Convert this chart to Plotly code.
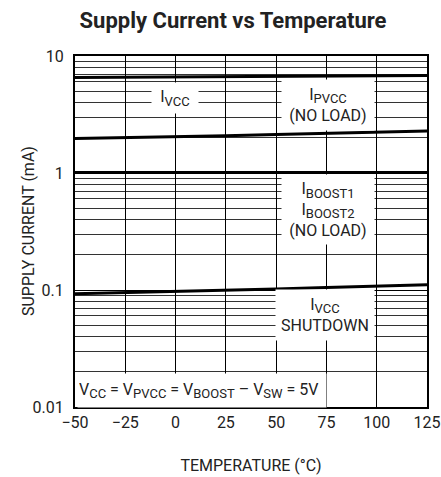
import plotly.graph_objects as go

# Datos
temperature = [-50, -25, 0, 25, 50, 75, 100, 125]
i_pvcc = [6.55, 6.58, 6.62, 6.65, 6.69, 6.72, 6.76, 6.8]
i_vcc = [1.97, 2.0, 2.04, 2.08, 2.13, 2.18, 2.23, 2.28]
i_boost = [1.01, 1.01, 1.01, 1.01, 1.01, 1.01, 1.01, 1.01]
i_vcc_shdn = [0.093, 0.095, 0.097, 0.099, 0.102, 0.105, 0.108, 0.111]

x_ticks = [-50, -25, 0, 25, 50, 75, 100, 125]
y_ticks = [0.01, 0.1, 1, 10]
y_ticktext = ["0.01", "0.1", "1", "10"]
y_minor = [m * d for d in [0.01, 0.1, 1] for m in range(2, 10)]

FONT = "Roboto, Liberation Sans, sans-serif"
TXT = '#222'

fig = go.Figure()

for serie in [i_pvcc, i_vcc, i_boost, i_vcc_shdn]:
    fig.add_trace(go.Scatter(
        x=temperature,
        y=serie,
        mode='lines',
        line=dict(color='black', width=3),
        showlegend=False,
        hoverinfo='skip'
    ))

# Caja de la grafica en px (l=75, r=427, t=56, b=407)
L, R, T, B = 75, 427, 56, 407


def px_x(p):
    return (p - L) / (R - L)


def px_y(p):
    return (B - p) / (B - T)


def sub(s):
    # subindice un poco mas grande que el de plotly por defecto
    return f"<sub><span style='font-size:13px'>{s}</span></sub>"


# Etiquetas con fondo blanco (tapan la rejilla como en el original)
labels = [
    ("I" + sub("VCC"), 175, 97.5, 44, 28),
    ("I" + sub("PVCC") + "<br>(NO LOAD)", 328, 105, 90, 48),
    ("I" + sub("BOOST1") + "<br>I" + sub("BOOST2") + "<br>(NO LOAD)", 328, 210, 90, 67),
    ("I" + sub("VCC") + "<br>SHUTDOWN", 325, 315, 96, 48),
]
for text, cx, cy, w, h in labels:
    fig.add_annotation(
        text=text, xref='paper', yref='paper',
        x=px_x(cx), y=px_y(cy), xanchor='center', yanchor='middle',
        width=w, height=h, align='center', showarrow=False,
        bgcolor='white', borderpad=1,
        font=dict(family=FONT, size=16, color=TXT)
    )

fig.add_annotation(
    text="V" + sub("CC") + " = V" + sub("PVCC") + " = V" + sub("BOOST")
         + " – V" + sub("SW") + " = 5V",
    xref='paper', yref='paper',
    x=px_x(77), y=px_y(390), xanchor='left', yanchor='middle',
    width=246, height=31, align='left', showarrow=False,
    bgcolor='white', borderpad=1,
    font=dict(family=FONT, size=16, color=TXT)
)

# Titulo del eje Y
fig.add_annotation(
    text="SUPPLY CURRENT (mA)", xref='paper', yref='paper',
    x=px_x(28), y=px_y(231), xanchor='center', yanchor='middle',
    textangle=-90, showarrow=False,
    font=dict(family=FONT, size=16, color=TXT)
)

fig.update_layout(
    width=441,
    height=477,
    paper_bgcolor='white',
    plot_bgcolor='white',
    margin=dict(l=L, r=441 - R, t=T, b=477 - B),
    title=dict(
        text="<b>Supply Current vs Temperature</b>",
        x=233 / 441, xref='container', xanchor='center',
        y=1 - 20 / 477, yref='container', yanchor='middle',
        font=dict(family=FONT, size=22, color=TXT)
    ),
    font=dict(family=FONT, color=TXT, size=16),
    xaxis=dict(
        range=[-50, 125],
        tickvals=x_ticks,
        automargin=False,
        showline=True, linecolor='black', linewidth=2, mirror=True,
        showgrid=True, gridcolor='black', gridwidth=1,
        zeroline=False,
        ticks='inside', ticklen=4, tickcolor='black',
        tickfont=dict(family=FONT, size=16, color=TXT),
        title=dict(text="TEMPERATURE (°C)", standoff=29,
                   font=dict(family=FONT, size=16, color=TXT))
    ),
    yaxis=dict(
        type='log',
        range=[-2, 1],
        tickvals=y_ticks,
        ticktext=y_ticktext,
        automargin=False,
        showline=True, linecolor='black', linewidth=2, mirror=True,
        showgrid=True, gridcolor='black', gridwidth=1,
        zeroline=False,
        ticks='', ticklabelstandoff=6,
        minor=dict(tickvals=y_minor, showgrid=True, gridcolor='#333',
                   gridwidth=1, ticks=''),
        tickfont=dict(family=FONT, size=16, color=TXT)
    )
)

fig.write_html("out.html", config={'displayModeBar': False},
               post_script="document.body.style.margin='0';")
